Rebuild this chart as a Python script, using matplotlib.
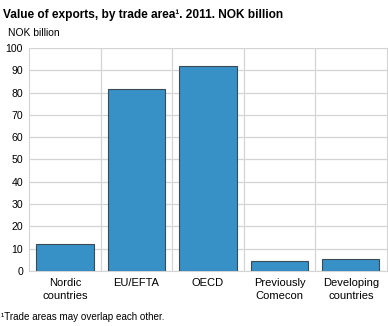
import matplotlib
matplotlib.use('Agg')
from matplotlib import pyplot as plt

plt.rcParams['font.family'] = ['Liberation Sans', 'DejaVu Sans']

# Export value per trade area, 2011 (NOK billion)
areas = ['Nordic\ncountries', 'EU/EFTA', 'OECD', 'Previously\nComecon', 'Developing\ncountries']
exports = [12.1, 81.8, 91.7, 4.3, 5.2]

fig = plt.figure(figsize=(3.88, 3.26), dpi=100)
ax = fig.add_axes([0.0755, 0.169, 0.921, 0.684])

x = range(len(areas))
ax.bar(x, exports, width=0.8, color='#3790c6', edgecolor='#3c4a55', linewidth=0.8, zorder=3)

ax.set_xlim(-0.5, len(areas) - 0.5)
ax.set_ylim(0, 100)
ax.set_yticks(range(0, 101, 10))
ax.set_xticks(list(x))
ax.set_xticklabels(areas, fontsize=8, linespacing=1.45)
ax.tick_params(axis='y', labelsize=7.6, length=0, pad=4.5)
ax.tick_params(axis='x', length=0, pad=5)

# Horizontal grid on the value ticks, vertical lines between categories
ax.grid(axis='y', color='#d4d4d4', linewidth=0.9, zorder=0)
for b in [i + 0.5 for i in range(len(areas) - 1)]:
    ax.axvline(b, color='#d4d4d4', linewidth=0.9, zorder=0)

ax.spines['top'].set_visible(False)
for side in ['left', 'right', 'bottom']:
    ax.spines[side].set_color('#d4d4d4')

fig.text(0.008, 0.955, 'Value of exports, by trade area¹. 2011. NOK billion',
         fontsize=8.6, fontweight='bold', va='center', ha='left')
fig.text(0.02, 0.898, 'NOK billion', fontsize=7.4, va='center', ha='left')
fig.text(0.003, 0.028, '¹Trade areas may overlap each other.', fontsize=7.1, va='center', ha='left')

fig.savefig('out.png', dpi=100)
